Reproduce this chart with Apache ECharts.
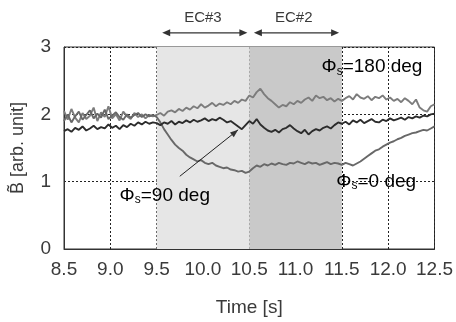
<!DOCTYPE html>
<html><head><meta charset="utf-8">
<script src="https://cdn.jsdelivr.net/npm/echarts@6/dist/echarts.min.js"></script>
<style>html,body{margin:0;padding:0;background:#fff}#c{width:456px;height:322px}</style>
</head><body><div id="c"></div>
<script>
// time axis: samples start at 8.5 s, every 0.04 s
const tStart = 8.5, tStep = 0.04;
const phi180 = [
2.05,1.92,2.08,1.95,1.88,2.02,1.93,1.98,2.10,1.90,
2.03,1.96,2.12,1.94,2.00,1.91,2.04,1.97,1.93,2.02,
1.96,2.00,1.94,1.99,1.97,
1.99,2.02,1.98,2.04,2.06,2.03,2.08,2.05,2.10,2.07,
2.12,2.09,2.15,2.10,2.13,2.17,2.12,2.16,2.14,2.18,
2.15,2.20,2.17,2.22,2.20,
2.28,2.25,2.33,2.38,2.30,2.24,2.20,2.15,2.10,2.14,
2.12,2.18,2.15,2.20,2.17,2.22,2.25,2.20,2.28,2.24,
2.26,2.21,2.24,2.19,2.23,
2.20,2.24,2.27,2.22,2.30,2.25,2.23,2.27,2.21,2.26,
2.24,2.28,2.22,2.25,2.20,2.23,2.18,2.24,2.20,2.15,
2.22,2.10,2.06,2.04,2.12,2.15];
const phi90 = [
1.75,1.78,1.74,1.80,1.77,1.82,1.76,1.79,1.83,1.78,
1.81,1.79,1.85,1.80,1.83,1.78,1.84,1.81,1.86,1.83,
1.88,1.85,1.89,1.86,1.88,
1.87,1.84,1.88,1.86,1.90,1.85,1.89,1.87,1.91,1.88,
1.92,1.89,1.91,1.94,1.90,1.93,1.91,1.95,1.92,1.88,
1.90,1.86,1.82,1.78,1.84,
1.90,1.86,1.93,1.85,1.80,1.76,1.74,1.77,1.73,1.78,
1.80,1.84,1.79,1.75,1.72,1.77,1.70,1.75,1.78,1.76,
1.80,1.82,1.79,1.84,1.88,
1.86,1.89,1.85,1.91,1.88,1.92,1.87,1.90,1.93,1.89,
1.88,1.92,1.90,1.94,1.91,1.93,1.95,1.92,1.96,1.94,
1.97,1.95,1.98,1.97,2.00,2.01];
const phi0 = [
1.90,2.00,1.88,1.97,2.04,1.92,1.99,2.06,1.94,2.01,
1.95,2.07,1.93,1.98,2.03,1.96,1.92,2.00,1.95,1.99,
2.02,1.96,2.00,1.97,1.99,
1.96,1.88,1.78,1.70,1.62,1.55,1.50,1.46,1.40,1.36,
1.33,1.30,1.32,1.28,1.26,1.28,1.24,1.22,1.20,1.21,
1.18,1.17,1.15,1.16,1.13,
1.15,1.20,1.24,1.22,1.26,1.24,1.27,1.25,1.28,1.26,
1.25,1.28,1.27,1.30,1.28,1.26,1.29,1.27,1.28,1.25,
1.27,1.29,1.26,1.28,1.27,
1.25,1.28,1.26,1.24,1.27,1.30,1.34,1.38,1.42,1.46,
1.48,1.52,1.55,1.58,1.60,1.63,1.65,1.68,1.70,1.72,
1.73,1.75,1.77,1.76,1.79,1.82];
const xTickLabels = ['8.5','9.0','9.5','10.0','10.5','11.0','11.5','12.0','12.5'];
const yTickLabels = ['0','1','2','3'];
const ec3Range = [9.5, 10.5];
const ec2Range = [10.5, 11.5];

const FONT = "'Liberation Sans', Arial, sans-serif";
const TXT = '#3a3a3a';
const pair = (arr) => arr.map((v, i) => [+(tStart + i * tStep).toFixed(3), v]);

const chart = echarts.init(document.getElementById('c'), null, {renderer: 'canvas'});
const lineSeries = (name, data, color, z) => ({
  name, type: 'line', data: pair(data), showSymbol: false, symbol: 'none',
  lineStyle: {color, width: 1.9}, z, animation: false
});
chart.setOption({
  animation: false,
  backgroundColor: '#fff',
  grid: {left: 64, right: 12, top: 47, bottom: 73, show: true, borderColor: '#333', borderWidth: 1, backgroundColor: 'transparent'},
  xAxis: {
    type: 'value', min: 8.5, max: 12.5, interval: 0.5,
    name: 'Time [s]', nameLocation: 'middle', nameGap: 49,
    nameTextStyle: {fontFamily: FONT, fontSize: 19, color: TXT},
    axisLine: {show: true, lineStyle: {color: '#333', width: 1}},
    axisTick: {show: false},
    axisLabel: {fontFamily: FONT, fontSize: 19, color: TXT, margin: 11,
      formatter: (v) => xTickLabels[Math.round((v - 8.5) / 0.5)]},
    splitLine: {show: true, lineStyle: {color: '#222', type: [2, 2], width: 1}}
  },
  yAxis: {
    type: 'value', min: 0, max: 3, interval: 1,
    name: 'B\u0303 [arb. unit]', nameLocation: 'middle', nameGap: 37, nameRotate: 90,
    nameMoveOverlap: false,
    nameTextStyle: {fontFamily: FONT, fontSize: 18, color: TXT},
    axisLine: {show: true, lineStyle: {color: '#333', width: 1}},
    axisTick: {show: false},
    axisLabel: {fontFamily: FONT, fontSize: 19, color: TXT, margin: 13,
      formatter: (v) => yTickLabels[Math.round(v)]},
    splitLine: {show: true, lineStyle: {color: '#222', type: [2, 2], width: 1}}
  },
  series: [
    {type: 'line', data: [], z: -1, silent: true,
      markArea: {silent: true, data: [
        [{xAxis: ec3Range[0], itemStyle: {color: '#e6e6e6'}}, {xAxis: ec3Range[1]}],
        [{xAxis: ec2Range[0], itemStyle: {color: '#c9c9c9'}}, {xAxis: ec2Range[1]}]
      ]}},
    lineSeries('Φs=180 deg', phi180, '#7c7c7c', 2),
    lineSeries('Φs=0 deg', phi0, '#686868', 3),
    lineSeries('Φs=90 deg', phi90, '#2c2c2c', 4)
  ]
});

// annotations positioned through the axis scales
const P = (x, y) => chart.convertToPixel({gridIndex: 0}, [x, y]);
const ARW = '#333';
function arrowHead(tip, from, len, half) {
  const dx = tip[0] - from[0], dy = tip[1] - from[1];
  const L = Math.hypot(dx, dy), ux = dx / L, uy = dy / L;
  const bx = tip[0] - ux * len, by = tip[1] - uy * len;
  return {type: 'polygon', shape: {points: [tip, [bx - uy * half, by + ux * half], [bx + uy * half, by - ux * half]]},
    style: {fill: ARW}, z: 100};
}
function dblArrow(x0, x1, y) {
  const a = P(x0, y), b = P(x1, y);
  return [
    {type: 'line', shape: {x1: a[0] + 4, y1: a[1], x2: b[0] - 4, y2: b[1]}, style: {stroke: ARW, lineWidth: 1.2}, z: 100},
    arrowHead(a, b, 8, 3.5), arrowHead(b, a, 8, 3.5)
  ];
}
function phiLabel(x, y, rest) {
  const p = P(x, y);
  return {type: 'text', x: p[0], y: p[1], z: 100,
    style: {text: '{a|Φ}{s|s}{a|' + rest + '}', verticalAlign: 'middle', align: 'left',
      rich: {a: {fontFamily: FONT, fontSize: 19, color: TXT},
             s: {fontFamily: FONT, fontSize: 12, color: TXT, verticalAlign: 'bottom', padding: [8, 0, 0, 0]}}}};
}
function textAt(x, y, t) {
  const p = P(x, y);
  return {type: 'text', x: p[0], y: p[1], z: 100,
    style: {text: t, fontFamily: FONT, fontSize: 15, fill: TXT, align: 'center', verticalAlign: 'middle'}};
}
const pa = P(9.75, 1.08), pb = P(10.38, 1.77);
const g = [].concat(
  dblArrow(9.56, 10.48, 3.21),
  dblArrow(10.55, 11.47, 3.21),
  [textAt(10.0, 3.43, 'EC#3'), textAt(10.98, 3.43, 'EC#2')],
  [phiLabel(11.28, 2.70, '=180 deg'), phiLabel(9.1, 0.79, '=90 deg'), phiLabel(11.44, 1.0, '=0 deg')],
  [{type: 'line', shape: {x1: pa[0], y1: pa[1], x2: pb[0], y2: pb[1]}, style: {stroke: '#222', lineWidth: 1}, z: 100},
   arrowHead(pb, pa, 8, 3)]
);
chart.setOption({graphic: g});
</script></body></html>
